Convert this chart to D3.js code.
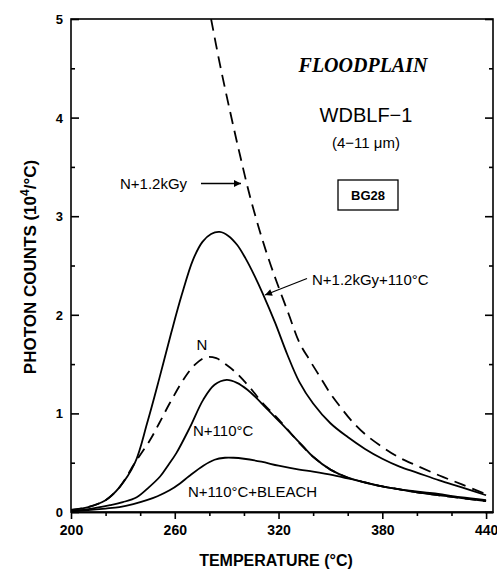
<!DOCTYPE html>
<html lang="en">
<head>
    <meta charset="UTF-8">
    <title>Floodplain WDBLF-1 glow curves</title>
    <script src="https://d3js.org/d3.v7.min.js"></script>
    <style>
        body {
            margin: 0;
            background: #fff;
        }
        svg text {
            font-family: 'Liberation Sans', Arial, sans-serif;
            fill: #000;
        }
        .tick-label, .axis-title {
            font-weight: bold;
        }
    </style>
</head>
<body>
<svg id="chart" width="497" height="569"></svg>
<script>
    // glow curves: [temperature (°C), photon counts (10^4/°C)]
    var dose1200 = [[281, 5.0], [286, 4.55], [292, 4.06], [297.7, 3.62], [303.5, 3.2], [309.3, 2.84], [314, 2.58], [319, 2.33], [326, 2.0], [332, 1.72], [338, 1.54], [344, 1.37], [350, 1.2], [356, 1.06], [362, 0.93], [370, 0.79], [380, 0.66], [390, 0.55], [400, 0.47], [413, 0.37], [426, 0.28], [440, 0.18]];
    var dose1200Heated = [[200, 0.02], [210, 0.05], [220, 0.12], [228, 0.25], [237, 0.5], [244, 0.9], [251, 1.35], [258, 1.82], [264, 2.2], [270.6, 2.56], [276, 2.74], [281, 2.82], [286, 2.84], [291, 2.8], [296, 2.71], [301, 2.57], [306, 2.4], [311, 2.21], [318, 1.92], [325, 1.6], [332, 1.32], [340, 1.1], [350, 0.9], [360, 0.76], [370, 0.64], [380, 0.54], [390, 0.46], [400, 0.4], [413, 0.32], [426, 0.25], [440, 0.17]];
    var natural = [[200, 0.02], [210, 0.05], [220, 0.12], [228, 0.25], [237, 0.5], [245.7, 0.73], [251, 0.9], [257, 1.1], [266, 1.37], [272, 1.5], [278, 1.57], [284, 1.56], [290, 1.49], [295, 1.42], [300, 1.33], [305, 1.23], [310, 1.12], [315, 1.03], [320, 0.94], [325, 0.84], [332, 0.7], [340, 0.56], [350, 0.43], [360, 0.35], [370, 0.3], [380, 0.26], [390, 0.23], [400, 0.2], [413, 0.17], [426, 0.14], [440, 0.11]];
    var naturalHeated = [[200, 0.01], [210, 0.03], [222.6, 0.07], [230, 0.1], [238, 0.15], [245, 0.25], [251.5, 0.36], [256, 0.47], [261, 0.6], [268.8, 0.86], [276.5, 1.14], [283, 1.29], [290, 1.34], [296, 1.31], [302, 1.24], [307, 1.16], [312, 1.07], [317, 0.98], [322, 0.89], [328, 0.78], [334, 0.67], [340, 0.56], [350, 0.43], [360, 0.35], [370, 0.3], [380, 0.26], [390, 0.23], [400, 0.2], [413, 0.17], [426, 0.14], [440, 0.11]];
    var bleached = [[200, 0.01], [210, 0.02], [220, 0.035], [228, 0.05], [236, 0.08], [243.8, 0.12], [250, 0.16], [257, 0.22], [263, 0.29], [268, 0.36], [276.5, 0.47], [283, 0.53], [289, 0.55], [294, 0.55], [300, 0.54], [310, 0.51], [320, 0.47], [332, 0.43], [340, 0.41], [351.5, 0.375], [365, 0.32], [376.8, 0.27], [390, 0.23], [409, 0.19], [425, 0.15], [440, 0.12]];

    var xMajor = [200, 260, 320, 380, 440];
    var xMinor = [220, 240, 280, 300, 340, 360, 400, 420];
    var yMajor = [0, 1, 2, 3, 4, 5];
    var yMinor = [0.5, 1.5, 2.5, 3.5, 4.5];

    var svg = d3.select('#chart');
    var plotLeft = 71, plotRight = 493, plotTop = 19, plotBottom = 512;

    var x = d3.scaleLinear().domain([200, 444]).range([plotLeft, plotRight]);
    var y = d3.scaleLinear().domain([0, 5]).range([plotBottom, plotTop]);

    var defs = svg.append('defs');
    defs.append('clipPath').attr('id', 'plotClip')
        .append('rect')
        .attr('x', plotLeft).attr('y', plotTop)
        .attr('width', plotRight - plotLeft).attr('height', plotBottom - plotTop);

    // x axis: ticks point down, labels 200..440
    svg.append('g')
        .attr('transform', 'translate(0,' + plotBottom + ')')
        .call(d3.axisBottom(x).tickValues(xMinor).tickSize(4).tickSizeOuter(0).tickFormat(''));
    var xAxis = svg.append('g')
        .attr('transform', 'translate(0,' + plotBottom + ')')
        .call(d3.axisBottom(x).tickValues(xMajor).tickSize(7).tickSizeOuter(0).tickPadding(6).tickFormat(d3.format('d')));
    xAxis.selectAll('text')
        .attr('class', 'tick-label')
        .style('font-size', '14px');
    svg.selectAll('g[font-family]').attr('font-family', null);

    // y axis, both sides: ticks point inward
    function yTicks(xPos, values, size, outward) {
        var axis = outward ? d3.axisLeft(y) : d3.axisRight(y);
        var g = svg.append('g')
            .attr('transform', 'translate(' + xPos + ',0)')
            .call(axis.tickValues(values).tickSize(size).tickSizeOuter(0).tickFormat(''));
        g.select('.domain').remove();
    }
    yTicks(plotLeft, yMajor, 8, false);
    yTicks(plotLeft, yMinor, 4, false);
    yTicks(plotRight, yMajor, 8, true);
    yTicks(plotRight, yMinor, 4, true);

    svg.append('g').selectAll('text')
        .data(yMajor)
        .enter()
        .append('text')
        .attr('class', 'tick-label')
        .attr('x', plotLeft - 8)
        .attr('y', function (d) { return y(d) + 5; })
        .attr('text-anchor', 'end')
        .style('font-size', '13px')
        .text(function (d) { return d; });

    svg.selectAll('.tick line, .domain').attr('stroke', '#000').attr('stroke-width', 1.6);

    // frame
    svg.append('rect')
        .attr('x', plotLeft).attr('y', plotTop)
        .attr('width', plotRight - plotLeft).attr('height', plotBottom - plotTop)
        .attr('fill', 'none')
        .attr('stroke', '#000')
        .attr('stroke-width', 1.6);

    var line = d3.line()
        .x(function (d) { return x(d[0]); })
        .y(function (d) { return y(d[1]); })
        .curve(d3.curveCatmullRom.alpha(0.5));

    var curves = [
        {data: dose1200, dash: '12,7'},
        {data: dose1200Heated, dash: null},
        {data: natural, dash: '11,7'},
        {data: naturalHeated, dash: null},
        {data: bleached, dash: null}
    ];

    svg.append('g')
        .attr('clip-path', 'url(#plotClip)')
        .selectAll('path')
        .data(curves)
        .enter()
        .append('path')
        .attr('d', function (d) { return line(d.data); })
        .attr('fill', 'none')
        .attr('stroke', '#000')
        .attr('stroke-width', 1.8)
        .attr('stroke-dasharray', function (d) { return d.dash; });

    // arrows
    defs.append('marker')
        .attr('id', 'arrowHead')
        .attr('viewBox', '0 0 10 10')
        .attr('refX', 10).attr('refY', 5)
        .attr('markerWidth', 10).attr('markerHeight', 7)
        .attr('markerUnits', 'userSpaceOnUse')
        .attr('orient', 'auto')
        .append('path')
        .attr('d', 'M0,0L10,5L0,10Z')
        .attr('fill', '#000');

    svg.append('line')
        .attr('x1', 201).attr('y1', 183.5).attr('x2', 241).attr('y2', 183.5)
        .attr('stroke', '#000').attr('stroke-width', 1.3)
        .attr('marker-end', 'url(#arrowHead)');

    svg.append('line')
        .attr('x1', 307).attr('y1', 278.5).attr('x2', 265).attr('y2', 295)
        .attr('stroke', '#000').attr('stroke-width', 1.3)
        .attr('marker-end', 'url(#arrowHead)');

    // annotations
    function note(txt, tx, ty, size, anchor) {
        return svg.append('text')
            .attr('x', tx).attr('y', ty)
            .attr('text-anchor', anchor || 'start')
            .style('font-size', size + 'px')
            .text(txt);
    }

    note('N+1.2kGy', 120, 189, 15);
    note('N+1.2kGy+110°C', 312, 285, 15);
    note('N', 202, 350, 15, 'middle');
    note('N+110°C', 193, 436, 15);
    note('N+110°C+BLEACH', 188, 497, 15);

    svg.append('text')
        .attr('x', 363).attr('y', 72)
        .attr('text-anchor', 'middle')
        .style('font-family', "'Liberation Serif', 'Times New Roman', serif")
        .style('font-weight', 'bold')
        .style('font-style', 'italic')
        .style('font-size', '20px')
        .text('FLOODPLAIN');

    note('WDBLF\u22121', 366, 122, 20, 'middle');
    note('(4\u221211 \u03bcm)', 366, 148, 15, 'middle');

    svg.append('rect')
        .attr('x', 338).attr('y', 180)
        .attr('width', 60).attr('height', 30)
        .attr('fill', 'none')
        .attr('stroke', '#000')
        .attr('stroke-width', 1.3);
    note('BG28', 368, 200, 13, 'middle').style('font-weight', 'bold');

    // axis titles
    svg.append('text')
        .attr('class', 'axis-title')
        .attr('x', 276).attr('y', 566)
        .attr('text-anchor', 'middle')
        .style('font-size', '16px')
        .text('TEMPERATURE (°C)');

    var yTitle = svg.append('text')
        .attr('class', 'axis-title')
        .attr('transform', 'translate(36,267) rotate(-90)')
        .attr('text-anchor', 'middle')
        .style('font-size', '17px');
    yTitle.append('tspan').text('PHOTON COUNTS (10');
    yTitle.append('tspan').attr('dy', -7).style('font-size', '12px').text('4');
    yTitle.append('tspan').attr('dy', 7).text('/°C)');
</script>
</body>
</html>
